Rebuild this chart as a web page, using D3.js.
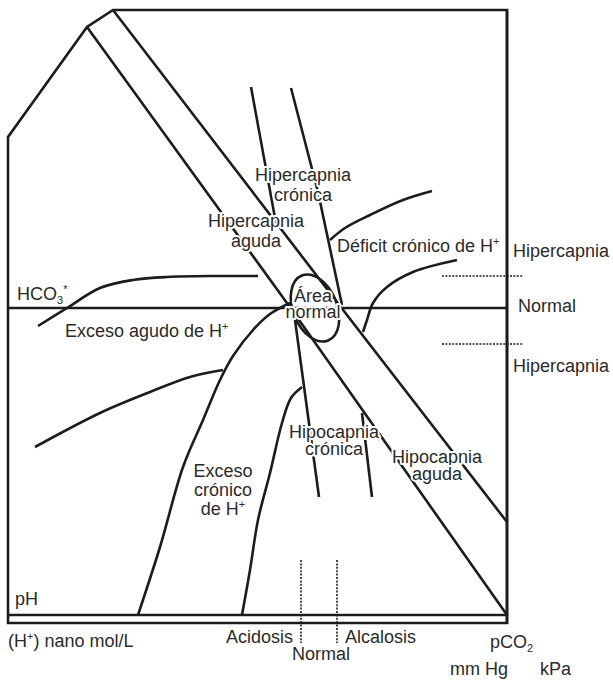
<!DOCTYPE html>
<html>
<head>
<meta charset="utf-8">
<script src="https://cdn.jsdelivr.net/npm/d3@7"></script>
<style>
  body { margin: 0; background: #fff; }
  svg text { font-family: "Liberation Sans", Arial, sans-serif; font-size: 18px; fill: #2a2a2a; }
  .halo { stroke: #fff; stroke-width: 4px; paint-order: stroke; stroke-linejoin: round; }
  .ln { fill: none; stroke: #1c1c1c; stroke-width: 2.6; stroke-linecap: butt; stroke-linejoin: miter; }
  .dot { fill: none; stroke: #1c1c1c; stroke-width: 1.6; stroke-dasharray: 2 1.4; }
</style>
</head>
<body>
<div id="chart"></div>
<script>
// chart units: origin at bottom-left corner of the frame
const frame = [[0, 0], [0, 486], [79, 596], [105, 613], [499, 613], [499, 0]]
const normalLine = [[0, 315], [499, 315]]
const pHLine = [[0, 8], [499, 8]]

// acute band (hipercapnia / hipocapnia aguda)
const bandLeft = [[79, 596], [284, 313], [499, 8]]
const bandRight = [[105, 613], [332, 317], [499, 101]]

// chronic hypercapnia lines
const hiperCronA = [[243, 536], [267, 405]]
const hiperCronB = [[283, 535], [310, 431], [334, 318]]
// chronic hypocapnia lines
const hipoCronA = [[287, 303], [311, 126]]
const hipoCronB = [[354, 210], [364, 126]]

// metabolic curves
const excesoAgudo = [[30, 297], [59, 315], [92, 335], [125, 343], [159, 346], [209, 347], [250, 347]]
const excesoLow = [[27, 176], [92, 210], [142, 231], [182, 246], [215, 253]]
const excesoCronico = [[130, 8], [152, 76], [175, 156], [195, 203], [212, 243], [225, 267], [245, 293], [262, 309], [282, 320]]
const excesoCronico2 = [[234, 8], [242, 53], [250, 103], [262, 150], [274, 200], [283, 225], [294, 236]]
const deficitCronico = [[424, 432], [395, 423], [362, 408], [337, 395], [322, 383]]
const deficitAgudo = [[449, 363], [405, 351], [379, 336], [365, 320], [359, 303], [355, 291]]

// normal area ellipse: centre, semi axes, tilt
const normalArea = { cx: 307, cy: 315, rx: 22, ry: 35, tilt: -22 }

// dotted guides
const hDots = [[[434, 347], [515, 347]], [[434, 279], [515, 279]]]
const vDots = [[[293, 63], [293, -20]], [[329, 63], [329, -20]]]

const W = 613, H = 681
const svg = d3.select("#chart").append("svg")
    .attr("width", W)
    .attr("height", H)

const x = d3.scaleLinear().domain([0, 499]).range([8, 507])
const y = d3.scaleLinear().domain([0, 613]).range([623, 10])

const straight = d3.line().x(d => x(d[0])).y(d => y(d[1]))
const smooth = d3.line().x(d => x(d[0])).y(d => y(d[1])).curve(d3.curveCatmullRom.alpha(0.5))

// frame
svg.append("path").attr("class", "ln").attr("d", straight(frame) + "Z")
svg.append("path").attr("class", "ln").attr("d", straight(pHLine)).attr("stroke-width", 3)
svg.append("line").attr("class", "ln")
    .attr("x1", x(499)).attr("x2", x(499)).attr("y1", y(613)).attr("y2", y(-1))
    .attr("stroke-width", 3.4)
svg.append("path").attr("class", "ln").attr("d", straight(normalLine))

// straight lines
;[bandLeft, bandRight, hiperCronA, hiperCronB, hipoCronA, hipoCronB].forEach(p => {
    svg.append("path").attr("class", "ln").attr("d", straight(p))
})

// curves
;[excesoAgudo, excesoLow, excesoCronico, excesoCronico2, deficitCronico, deficitAgudo].forEach(p => {
    svg.append("path").attr("class", "ln").attr("d", smooth(p))
})

// normal area
svg.append("ellipse").attr("class", "ln")
    .attr("cx", x(normalArea.cx)).attr("cy", y(normalArea.cy))
    .attr("rx", x(normalArea.cx + normalArea.rx) - x(normalArea.cx))
    .attr("ry", y(normalArea.cy) - y(normalArea.cy + normalArea.ry))
    .attr("transform", `rotate(${normalArea.tilt},${x(normalArea.cx)},${y(normalArea.cy)})`)

hDots.concat(vDots).forEach(p => {
    svg.append("path").attr("class", "dot").attr("d", straight(p))
})

// labels: each line is a list of parts, "^" = superscript, "_" = subscript
const labels = [
    { at: [295, 442], anchor: "middle", lines: ["Hipercapnia", "crónica"], gap: 20 },
    { at: [248, 396], anchor: "middle", lines: ["Hipercapnia", "aguda"], gap: 20 },
    { at: [329, 371], anchor: "start", lines: [["Déficit crónico de H", "^+"]] },
    { at: [505, 366], anchor: "start", lines: ["Hipercapnia"] },
    { at: [510, 311], anchor: "start", lines: ["Normal"] },
    { at: [505, 251], anchor: "start", lines: ["Hipercapnia"] },
    { at: [9, 323], anchor: "start", lines: [["HCO", "_3", "^*"]] },
    { at: [57, 286], anchor: "start", lines: [["Exceso agudo de H", "^+"]] },
    { at: [305, 321], anchor: "middle", lines: ["Área", "normal"], gap: 16 },
    { at: [215, 146], anchor: "middle", lines: ["Exceso", "crónico", ["de H", "^+"]], gap: 19 },
    { at: [326, 185], anchor: "middle", lines: ["Hipocapnia", "crónica"], gap: 17 },
    { at: [429, 160], anchor: "middle", lines: ["Hipocapnia", "aguda"], gap: 17 },
    { at: [7, 18], anchor: "start", lines: ["pH"] },
    { at: [0, -24], anchor: "start", lines: [["(H", "^+", ") nano mol/L"]] },
    { at: [285, -20], anchor: "end", lines: ["Acidosis"] },
    { at: [284, -37], anchor: "start", lines: ["Normal"] },
    { at: [337, -20], anchor: "start", lines: ["Alcalosis"] },
    { at: [482, -25], anchor: "start", lines: [["pCO", "_2"]] },
    { at: [442, -52], anchor: "start", lines: ["mm Hg"] },
    { at: [532, -52], anchor: "start", lines: ["kPa"] }
]

labels.forEach(l => {
    const t = svg.append("text")
        .attr("class", "halo")
        .attr("text-anchor", l.anchor)
    l.lines.forEach((line, i) => {
        const parts = typeof line === "string" ? [line] : line
        let shift = 0
        parts.forEach((p, j) => {
            const ts = t.append("tspan")
            if (j === 0) ts.attr("x", x(l.at[0])).attr("y", y(l.at[1]) + i * (l.gap || 0))
            let dy = 0
            let txt = p
            if (p[0] === "^") { dy = -7 - shift; shift = -7; txt = p.slice(1); ts.style("font-size", "11px") }
            else if (p[0] === "_") { dy = 4 - shift; shift = 4; txt = p.slice(1); ts.style("font-size", "11px") }
            else if (shift !== 0) { dy = -shift; shift = 0 }
            if (dy) ts.attr("dy", dy)
            ts.text(txt)
        })
    })
})
</script>
</body>
</html>
